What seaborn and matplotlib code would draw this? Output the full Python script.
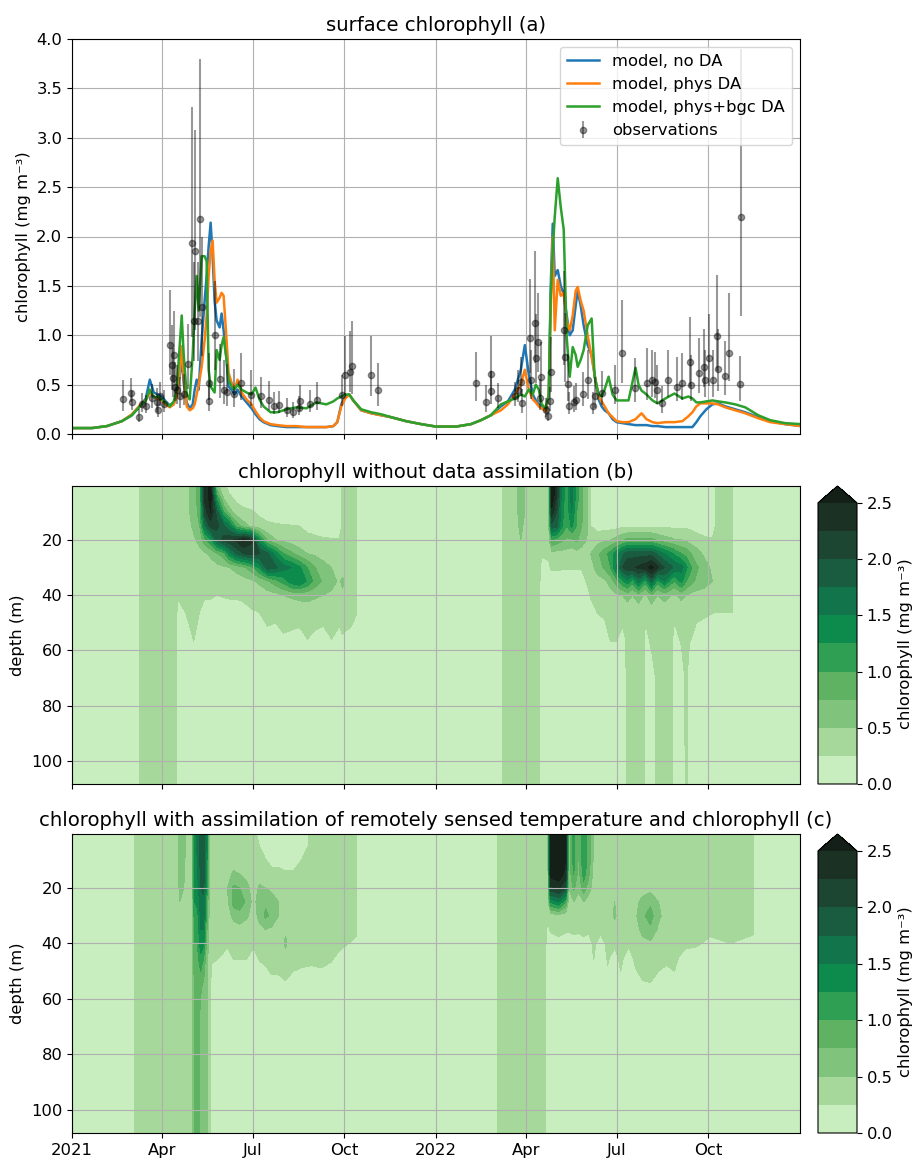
import numpy as np
import pandas as pd
import matplotlib
matplotlib.use("Agg")
import matplotlib.pyplot as plt
import matplotlib.dates as mdates
from matplotlib.colors import ListedColormap
from matplotlib.ticker import FuncFormatter
import seaborn as sns

plt.rcParams["font.size"] = 11.8

START = pd.Timestamp("2021-01-01")

# ---- surface chlorophyll, model runs (days since 2021-01-01) ----
model_days = [0, 20, 35, 50, 60, 68, 74, 78, 82, 86,
              90, 94, 98, 102, 105, 108, 110, 112, 115, 118,
              121, 123, 125, 127, 130, 133, 135, 137, 139, 141,
              143, 145, 148, 150, 152, 155, 157, 160, 163, 166,
              170, 175, 180, 184, 188, 192, 199, 206, 215, 225,
              235, 245, 255, 262, 266, 270, 274, 278, 282, 290,
              300, 310, 320, 335, 350, 365, 385, 400, 410, 420,
              430, 437, 444, 450, 454, 458, 462, 465, 468, 471,
              475, 478, 480, 482, 484, 487, 490, 493, 496, 499,
              502, 505, 507, 510, 513, 517, 521, 524, 528, 531,
              534, 538, 542, 546, 552, 558, 565, 568, 571, 576,
              582, 587, 595, 604, 612, 618, 622, 626, 630, 636,
              642, 648, 655, 665, 675, 688, 700, 715, 731]
chl_no_da = [.06, .06, .08, .13, .19, .28, .36, .55, .42, .40,
             .38, .33, .29, .32, .40, .60, .75, .52, .32, .26,
             .30, .45, .55, .45, .95, 1.35, 1.60, 1.90, 2.14, 1.80,
             1.35, 1.15, 1.08, 1.22, 1.05, .75, .48, .45, .40, .45,
             .38, .32, .26, .20, .15, .12, .09, .08, .07, .07,
             .07, .07, .07, .08, .12, .30, .38, .40, .34, .24,
             .21, .19, .17, .13, .10, .075, .075, .10, .14, .19,
             .28, .33, .45, .65, .90, .60, .40, .34, .30, .28,
             .24, .40, 1.50, 2.13, 1.60, 1.66, 1.50, 1.42, 1.20, 1.00,
             1.05, 1.30, 1.45, 1.30, 1.10, .90, .80, .60, .35, .28,
             .24, .21, .15, .12, .11, .10, .09, .09, .09, .09,
             .08, .08, .07, .07, .07, .07, .07, .12, .18, .25,
             .30, .31, .28, .25, .22, .17, .13, .10, .08]
chl_phys_da = [.06, .06, .08, .13, .20, .29, .34, .42, .38, .36,
               .34, .30, .27, .30, .38, .62, .89, .60, .28, .24,
               .26, .30, .40, .50, .68, .95, 1.20, 1.60, 1.85, 1.96,
               1.55, 1.33, 1.38, 1.43, 1.40, .95, .62, .52, .45, .55,
               .42, .35, .30, .23, .17, .13, .10, .09, .08, .08,
               .07, .07, .07, .08, .12, .28, .36, .40, .34, .24,
               .21, .19, .17, .13, .10, .075, .075, .10, .14, .19,
               .24, .30, .40, .50, .65, .45, .35, .32, .28, .26,
               .23, .40, 1.30, 2.00, 1.05, 1.56, 1.40, 1.43, 1.15, 1.05,
               1.20, 1.45, 1.49, 1.35, 1.25, 1.00, .78, .60, .38, .33,
               .28, .21, .17, .13, .12, .12, .15, .18, .21, .15,
               .12, .11, .12, .12, .13, .18, .22, .28, .31, .31,
               .31, .30, .27, .24, .21, .16, .12, .10, .08]
chl_bgc_da = [.06, .06, .08, .13, .19, .28, .34, .45, .37, .38,
              .35, .32, .28, .33, .45, .90, 1.20, .80, .40, .35,
              .80, 1.25, 1.60, 1.25, 1.80, 1.80, 1.75, .65, .48, .45,
              .42, .85, .75, .90, .98, .75, .55, .48, .45, .50,
              .45, .42, .40, .47, .35, .28, .22, .22, .25, .27,
              .26, .32, .30, .33, .36, .38, .40, .40, .34, .25,
              .22, .20, .17, .13, .10, .075, .075, .10, .14, .19,
              .30, .33, .36, .40, .38, .45, .40, .50, .45, .30,
              .26, .40, 1.40, 1.86, 2.20, 2.59, 2.30, 2.07, .98, .58,
              .88, .80, .68, .75, .85, 1.10, 1.17, .58, .40, .38,
              .45, .58, .40, .34, .34, .34, .67, .50, .44, .40,
              .34, .31, .36, .41, .36, .38, .36, .32, .32, .33,
              .34, .33, .32, .30, .27, .19, .14, .11, .10]

# ---- observations: day, value, lower / upper error ----
obs_day = [51.6, 59, 60, 66.7, 70, 74.4, 80.4, 85, 85.8, 88.5,
           92.5, 98.5, 100.3, 101.3, 102.6, 103.6, 105.6, 108.6, 112, 116,
           120.4, 122, 123.7, 126, 128, 130.4, 137, 137.8, 143.8, 148.8,
           152, 155.6, 162.2, 169, 179, 189, 197.4, 202.4, 207.4, 216,
           222, 227.5, 229, 239, 246, 271, 273.5, 278.8, 280.5, 299.6,
           306.4,
           405.2, 414.6, 419.6, 420.3, 427, 443.7, 447, 449.8, 451.5, 458.8,
           460.5, 464.5, 465.5, 467.3, 468.9, 470.6, 475.6, 477.3, 478.9, 480.6,
           493.4, 494.7, 497.5, 498, 503.4, 505.8, 512.5, 517.5, 522.6, 524.2,
           531, 544.3, 551, 564.4, 576.2, 581.2, 584.5, 586.2, 591.2, 598,
           606.3, 612, 619.7, 620.7, 628.2, 633.2, 634.8, 638.2, 642.2, 646.5,
           647.6, 654.3, 658.3, 670, 670.4]
obs_val = [.35, .42, .32, .17, .30, .28, .36, .32, .24, .38,
           .30, .90, .70, .57, .80, .48, .45, .38, .41, .71,
           1.93, 1.14, 1.85, 1.14, 2.18, 1.29, .33, .52, 1.00, .56,
           .45, .43, .41, .52, .40, .38, .34, .28, .29, .24,
           .22, .26, .33, .30, .34, .40, .60, .63, .69, .60,
           .45,
           .52, .32, .44, .61, .36, .38, .45, .53, .31, .97,
           .55, 1.12, .77, .93, .36, .58, .24, .18, .33, .63,
           1.05, .78, .51, .28, .32, .34, .41, .55, .28, .38,
           .42, .45, .82, .47, .52, .55, .53, .45, .31, .55,
           .48, .52, .73, .50, .62, .68, .55, .77, .55, .99,
           .66, .59, .82, .51, 2.20]
obs_dn = [.12, .10, .08, .05, .08, .07, .10, .10, .07, .10,
          .08, .30, .25, .20, .28, .15, .15, .12, .12, .25,
          .95, .40, .80, .40, 1.00, .50, .10, .18, .35, .20,
          .15, .15, .14, .18, .12, .12, .10, .08, .08, .07,
          .06, .07, .10, .08, .10, .12, .20, .20, .28, .22,
          .17,
          .19, .10, .14, .23, .10, .10, .13, .15, .10, .35,
          .20, .40, .25, .30, .12, .20, .07, .05, .10, .20,
          .35, .25, .18, .08, .10, .10, .13, .20, .08, .12,
          .13, .15, .30, .15, .18, .18, .17, .15, .10, .18,
          .15, .18, .25, .17, .20, .20, .18, .28, .18, .35,
          .22, .20, .28, .18, 1.00]
obs_up = [.20, .15, .12, .08, .12, .12, .15, .15, .10, .15,
          .15, .56, .40, .30, .45, .25, .25, .20, .20, .40,
          1.38, .60, 1.23, .60, 1.62, .70, .20, .30, .55, .35,
          .30, .28, .25, .30, .25, .20, .20, .15, .15, .12,
          .10, .12, .17, .15, .19, .20, .39, .41, .45, .39,
          .27,
          .31, .18, .20, .38, .16, .15, .20, .25, .15, .60,
          .30, .73, .45, .50, .20, .35, .12, .10, .15, .35,
          .60, .45, .30, .15, .17, .18, .22, .30, .15, .20,
          .22, .25, .54, .30, .35, .30, .30, .25, .18, .30,
          .30, .30, .45, .30, .35, .38, .30, .45, .30, .62,
          .40, .35, .61, .28, 1.70]

# ---- chlorophyll profiles (rows: time, columns: depth) ----
depth_levels = [0.5, 5, 10, 15, 20, 25, 30, 35, 40, 45, 55, 70, 108.4]
bg = [.1] * 13
stripe = [.35] * 13

days_no_da = [0, 66, 68, 104, 106, 114, 122, 128, 133, 139,
              145, 152, 158, 165, 172, 180, 188, 196, 204, 212,
              220, 228, 236, 244, 252, 260, 268, 271, 280, 285,
              287, 430, 432, 444, 450, 456, 468, 471, 478, 481,
              486, 491, 496, 501, 506, 511, 516, 520, 527, 534,
              540, 546, 552, 557, 562, 568, 573, 575, 581, 587,
              594, 601, 604, 611, 616, 619, 626, 634, 642, 646,
              662, 664, 731]
prof_no_da = [
    bg, bg, stripe, stripe,
    [.3, .3, .3, .3, .3, .3, .3, .28, .27, .2, .1, .1, .1],
    [.4, .4, .4, .35, .3, .28, .27, .27, .27, .27, .12, .1, .1],
    [.6, .6, .6, .55, .45, .35, .3, .28, .27, .27, .27, .1, .1],
    [.9, .9, .85, .75, .6, .4, .3, .28, .27, .26, .15, .1, .1],
    [2.3, 2.3, 2.1, 1.6, .9, .45, .33, .3, .27, .2, .1, .1, .1],
    [2.6, 2.6, 2.5, 2.1, 1.2, .55, .38, .3, .27, .2, .1, .1, .1],
    [.6, 1.2, 1.9, 2.1, 1.8, .7, .42, .3, .25, .15, .1, .1, .1],
    [.3, .5, 1.0, 1.8, 2.1, .9, .45, .33, .27, .15, .1, .1, .1],
    [.15, .3, .6, 1.5, 2.2, 1.4, .5, .3, .27, .2, .1, .1, .1],
    [.1, .2, .35, .9, 2.3, 1.8, .6, .35, .27, .2, .1, .1, .1],
    [.1, .15, .3, .6, 2.55, 2.0, .7, .4, .28, .22, .1, .1, .1],
    [.1, .12, .28, .45, 2.3, 2.1, .9, .45, .3, .25, .1, .1, .1],
    [.1, .1, .2, .35, 1.3, 2.0, 1.3, .55, .35, .27, .12, .1, .1],
    [.1, .1, .15, .3, .7, 1.8, 1.9, .7, .4, .3, .22, .1, .1],
    [.1, .1, .12, .28, .5, 1.4, 1.8, .9, .42, .3, .2, .1, .1],
    [.1, .1, .1, .27, .42, 1.0, 1.6, 1.1, .5, .32, .24, .1, .1],
    [.1, .1, .1, .26, .38, .8, 1.5, 1.4, .55, .35, .22, .1, .1],
    [.1, .1, .1, .25, .35, .6, 1.3, 1.5, .6, .35, .2, .1, .1],
    [.1, .1, .1, .2, .3, .5, 1.0, 1.2, .6, .4, .26, .1, .1],
    [.1, .1, .1, .15, .3, .45, .75, .9, .55, .35, .22, .1, .1],
    [.1, .1, .1, .1, .28, .38, .6, .7, .5, .33, .2, .1, .1],
    [.1, .1, .1, .1, .27, .33, .5, .6, .45, .3, .26, .1, .1],
    [.1, .1, .1, .1, .26, .3, .35, .45, .38, .3, .22, .1, .1],
    [.3, .3, .3, .3, .3, .3, .35, .55, .45, .35, .24, .1, .1],
    [.3, .3, .3, .3, .3, .3, .3, .35, .3, .3, .22, .1, .1],
    [.3, .3, .3, .3, .3, .3, .3, .3, .3, .27, .18, .1, .1],
    bg, bg, stripe,
    [.4, .4, .4, .4, .35, .33, .3, .3, .3, .3, .3, .3, .3],
    [.6, .6, .6, .55, .5, .45, .4, .35, .3, .3, .3, .3, .3],
    [.45, .45, .45, .4, .35, .3, .3, .3, .3, .3, .3, .3, .3],
    stripe,
    [.3, .3, .3, .3, .3, .28, .15, .1, .1, .1, .1, .1, .1],
    [.5, .5, .5, .45, .4, .3, .2, .1, .1, .1, .1, .1, .1],
    [2.8, 2.7, 2.4, 1.9, 1.0, .4, .3, .1, .1, .1, .1, .1, .1],
    [2.3, 2.2, 2.0, 1.8, .9, .4, .3, .1, .1, .1, .1, .1, .1],
    [1.4, 1.4, 1.35, 1.3, .8, .4, .28, .1, .1, .1, .1, .1, .1],
    [1.1, 1.1, 1.05, 1.0, .7, .4, .28, .1, .1, .1, .1, .1, .1],
    [1.6, 1.6, 1.5, 1.3, .7, .35, .27, .1, .1, .1, .1, .1, .1],
    [1.1, 1.1, 1.0, 1.0, .8, .4, .27, .1, .1, .1, .1, .1, .1],
    [.8, .8, .8, .75, .6, .4, .28, .1, .1, .1, .1, .1, .1],
    [.6, .6, .6, .6, .5, .4, .3, .27, .1, .1, .1, .1, .1],
    [.2, .2, .2, .25, .35, .5, .4, .3, .27, .2, .1, .1, .1],
    [.1, .1, .1, .15, .4, .7, .6, .4, .3, .27, .15, .1, .1],
    [.1, .1, .1, .15, .45, .9, .8, .45, .32, .28, .2, .1, .1],
    [.1, .1, .1, .15, .5, 1.1, 1.0, .6, .4, .3, .27, .1, .1],
    [.1, .1, .1, .15, .6, 1.4, 1.5, .9, .45, .3, .27, .1, .1],
    [.1, .1, .1, .2, .7, 1.7, 2.0, 1.2, .5, .35, .2, .1, .1],
    [.1, .1, .1, .2, .8, 1.9, 2.2, 1.4, .6, .4, .3, .3, .3],
    [.1, .1, .1, .2, .8, 1.9, 2.2, 1.1, .5, .35, .3, .3, .3],
    [.1, .1, .1, .2, .8, 1.9, 2.3, 1.6, .65, .4, .3, .3, .3],
    [.1, .1, .1, .2, .8, 1.9, 2.4, 1.2, .5, .35, .3, .3, .3],
    [.1, .1, .1, .2, .8, 1.9, 2.4, 1.1, .45, .3, .2, .1, .1],
    [.1, .1, .1, .2, .8, 1.9, 2.6, 1.8, .7, .4, .3, .15, .1],
    [.1, .1, .1, .2, .7, 1.7, 2.3, 1.1, .5, .35, .3, .3, .3],
    [.1, .1, .1, .2, .6, 1.5, 2.0, 1.5, .6, .4, .3, .3, .3],
    [.1, .1, .1, .2, .55, 1.3, 1.8, 1.1, .5, .35, .3, .3, .3],
    [.1, .1, .1, .2, .5, 1.2, 1.7, 1.0, .45, .3, .2, .1, .1],
    [.1, .1, .1, .2, .5, 1.0, 1.6, 1.3, .6, .35, .28, .15, .1],
    [.1, .1, .1, .2, .45, .9, 1.3, 1.0, .5, .35, .3, .3, .3],
    [.1, .1, .1, .2, .4, .8, 1.1, .9, .45, .3, .28, .1, .1],
    [.1, .1, .1, .15, .35, .6, .8, .7, .4, .3, .2, .1, .1],
    [.1, .1, .1, .1, .3, .45, .6, .6, .4, .3, .15, .1, .1],
    [.1, .1, .1, .1, .27, .35, .45, .5, .35, .28, .1, .1, .1],
    [.3, .3, .3, .3, .3, .3, .35, .4, .32, .27, .1, .1, .1],
    [.3, .3, .3, .3, .3, .3, .3, .3, .3, .27, .1, .1, .1],
    bg, bg,
]

days_bgc_da = [0, 61, 63, 105, 108, 112, 115, 120, 123, 126,
               129, 132, 135, 138, 140, 148, 156, 162, 168, 175,
               182, 188, 194, 200, 207, 214, 222, 230, 240, 250,
               260, 270, 285, 287, 425, 427, 474, 477, 480, 488,
               495, 498, 503, 508, 513, 518, 523, 530, 537, 544,
               550, 558, 565, 572, 580, 588, 596, 604, 615, 625,
               640, 660, 683, 685, 731]
prof_bgc_da = [
    bg, bg, stripe, stripe,
    [.7, .7, .65, .6, .55, .5, .45, .4, .35, .35, .35, .35, .35],
    [.7, .7, .6, .55, .5, .45, .4, .35, .35, .35, .35, .35, .35],
    stripe, stripe,
    [1.4, 1.4, 1.35, 1.3, 1.3, 1.25, 1.2, 1.1, 1.0, .9, .85, .85, .8],
    [1.6, 1.6, 1.5, 1.5, 1.4, 1.3, 1.2, 1.1, 1.0, .95, .9, .9, .9],
    [1.9, 1.9, 1.85, 1.8, 1.75, 1.65, 1.55, 1.5, 1.4, 1.2, .8, .6, .6],
    [1.95, 1.95, 1.9, 1.85, 1.8, 1.7, 1.6, 1.5, 1.3, 1.0, .7, .6, .6],
    [1.4, 1.4, 1.35, 1.3, 1.2, 1.0, .9, .8, .7, .6, .6, .6, .6],
    [.5, .5, .5, .45, .45, .4, .4, .35, .35, .35, .35, .35, .3],
    [.4, .4, .35, .35, .35, .33, .3, .3, .3, .28, .15, .1, .1],
    [.5, .45, .4, .35, .35, .35, .3, .3, .28, .25, .1, .1, .1],
    [.35, .35, .35, .4, .5, .45, .35, .3, .27, .2, .1, .1, .1],
    [.3, .3, .35, .55, .8, .85, .6, .35, .3, .26, .1, .1, .1],
    [.3, .3, .35, .5, .75, .9, .65, .4, .3, .26, .1, .1, .1],
    [.3, .3, .3, .4, .6, .7, .55, .35, .3, .26, .1, .1, .1],
    [.3, .3, .28, .3, .35, .4, .35, .3, .27, .2, .1, .1, .1],
    [.2, .25, .3, .35, .55, .65, .6, .4, .3, .27, .12, .1, .1],
    [.1, .15, .26, .35, .5, .7, .8, .5, .35, .28, .18, .1, .1],
    [.1, .1, .2, .3, .45, .6, .7, .45, .35, .3, .22, .1, .1],
    [.1, .1, .2, .3, .4, .5, .5, .4, .32, .3, .22, .1, .1],
    [.1, .1, .15, .28, .35, .4, .45, .45, .55, .4, .22, .1, .1],
    [.1, .1, .15, .28, .3, .35, .35, .35, .3, .3, .2, .1, .1],
    [.1, .15, .25, .28, .3, .32, .32, .3, .3, .28, .2, .1, .1],
    [.3, .3, .3, .3, .3, .3, .32, .32, .3, .28, .18, .1, .1],
    [.3, .3, .3, .3, .3, .3, .32, .35, .3, .28, .2, .1, .1],
    [.3, .3, .3, .3, .3, .3, .3, .3, .3, .27, .15, .1, .1],
    [.3, .3, .3, .3, .3, .3, .3, .3, .28, .2, .1, .1, .1],
    [.3, .3, .3, .3, .3, .3, .3, .28, .22, .15, .1, .1, .1],
    bg, bg, stripe, stripe,
    [.35, .35, .35, .3, .3, .3, .28, .2, .1, .1, .1, .1, .1],
    [2.8, 2.8, 2.7, 2.6, 2.2, 1.3, .35, .28, .15, .1, .1, .1, .1],
    [3.0, 3.0, 2.9, 2.7, 2.3, 1.5, .4, .3, .2, .1, .1, .1, .1],
    [2.6, 2.6, 2.5, 2.4, 2.0, 1.0, .35, .28, .15, .1, .1, .1, .1],
    [.6, .6, .6, .55, .5, .4, .3, .27, .15, .1, .1, .1, .1],
    [1.1, 1.1, 1.1, 1.0, .8, .5, .35, .28, .2, .1, .1, .1, .1],
    [.7, .7, .7, .65, .55, .4, .3, .27, .2, .1, .1, .1, .1],
    [1.2, 1.2, 1.2, 1.1, .9, .5, .35, .28, .22, .1, .1, .1, .1],
    [.9, .9, .9, .8, .6, .4, .3, .27, .2, .1, .1, .1, .1],
    [.45, .45, .45, .4, .4, .35, .3, .28, .27, .26, .1, .1, .1],
    [.35, .35, .35, .35, .3, .3, .3, .28, .2, .1, .1, .1, .1],
    [.3, .3, .3, .3, .3, .3, .32, .3, .28, .27, .2, .1, .1],
    [.3, .3, .3, .3, .3, .5, .55, .35, .28, .2, .1, .1, .1],
    [.3, .3, .3, .3, .3, .35, .35, .3, .3, .28, .22, .1, .1],
    [.3, .3, .3, .3, .3, .3, .3, .3, .27, .2, .1, .1, .1],
    [.3, .3, .3, .3, .3, .4, .45, .35, .3, .28, .2, .1, .1],
    [.3, .3, .3, .3, .35, .6, .7, .6, .4, .3, .24, .1, .1],
    [.3, .3, .3, .3, .4, .7, .85, .7, .45, .35, .24, .1, .1],
    [.3, .3, .3, .3, .35, .5, .55, .45, .35, .3, .2, .1, .1],
    [.3, .3, .3, .3, .3, .35, .4, .35, .3, .27, .2, .1, .1],
    [.3, .3, .3, .3, .3, .3, .35, .35, .3, .28, .22, .1, .1],
    [.3, .3, .3, .3, .3, .3, .4, .3, .28, .2, .1, .1, .1],
    [.3, .3, .3, .3, .3, .3, .3, .3, .27, .2, .1, .1, .1],
    [.3, .3, .3, .3, .3, .3, .3, .28, .22, .15, .1, .1, .1],
    [.3, .3, .3, .3, .3, .3, .3, .28, .25, .15, .1, .1, .1],
    [.3, .3, .3, .3, .3, .3, .3, .28, .2, .1, .1, .1, .1],
    bg, bg,
]

# colour bands of the chlorophyll scale, plus the "over" colour
band_colors = ["#c8edbf", "#a6d89b", "#80c37c", "#5eb262", "#2fa053",
               "#0c8b4c", "#11744a", "#1a5c40", "#1c4532", "#1a3123"]
over_color = "#141f17"
levels = np.arange(0, 2.51, 0.25)

assert len(model_days) == len(chl_no_da) == len(chl_phys_da) == len(chl_bgc_da)
assert len(obs_day) == len(obs_val) == len(obs_dn) == len(obs_up)
assert len(days_no_da) == len(prof_no_da)
assert len(days_bgc_da) == len(prof_bgc_da)


def to_dates(days):
    return START + pd.to_timedelta(np.asarray(days, dtype=float), unit="D")


def month_label(x, pos):
    d = mdates.num2date(x)
    return str(d.year) if d.month == 1 else d.strftime("%b")


W, H = 917, 1160
fig = plt.figure(figsize=(W / 100, H / 100), dpi=100)
left, width = 72 / W, 728 / W
ax_a = fig.add_axes([left, 1 - 434 / H, width, 395 / H])
ax_b = fig.add_axes([left, 1 - 784 / H, width, 298 / H])
ax_c = fig.add_axes([left, 1 - 1133 / H, width, 299 / H])
cax_b = fig.add_axes([818 / W, 1 - 784 / H, 39 / W, 298 / H])
cax_c = fig.add_axes([818 / W, 1 - 1133 / H, 39 / W, 299 / H])

# (a) surface chlorophyll
model_dates = to_dates(model_days)
pal = sns.color_palette("tab10")
sns.lineplot(x=model_dates, y=chl_no_da, ax=ax_a, color=pal[0], lw=1.8,
             label="model, no DA")
sns.lineplot(x=model_dates, y=chl_phys_da, ax=ax_a, color=pal[1], lw=1.8,
             label="model, phys DA")
sns.lineplot(x=model_dates, y=chl_bgc_da, ax=ax_a, color=pal[2], lw=1.8,
             label="model, phys+bgc DA")
ax_a.errorbar(to_dates(obs_day), obs_val, yerr=[obs_dn, obs_up], fmt="o",
              color="k", ms=4.5, alpha=0.4, label="observations")
ax_a.set_ylim(0, 4)
ax_a.set_yticks(np.arange(0, 4.01, 0.5))
ax_a.set_ylabel("chlorophyll (mg m\u207b\u00b3)")
ax_a.set_xlabel("")
ax_a.set_title("surface chlorophyll (a)")
ax_a.grid(True)
ax_a.legend(loc="upper right")

# (b), (c) chlorophyll sections
cmap = ListedColormap(band_colors)
cmap.set_over(over_color)
panels = [
    (ax_b, cax_b, days_no_da, prof_no_da,
     "chlorophyll without data assimilation (b)"),
    (ax_c, cax_c, days_bgc_da, prof_bgc_da,
     "chlorophyll with assimilation of remotely sensed temperature and chlorophyll (c)"),
]
for ax, cax, days, prof, title in panels:
    xnum = mdates.date2num(to_dates(days))
    cf = ax.contourf(xnum, depth_levels, np.array(prof).T, levels=levels,
                     cmap=cmap, extend="max")
    ax.set_ylim(depth_levels[-1], depth_levels[0])
    ax.set_yticks([20, 40, 60, 80, 100])
    ax.set_ylabel("depth (m)")
    ax.set_title(title)
    ax.grid(True)
    cb = fig.colorbar(cf, cax=cax, ticks=np.arange(0, 2.51, 0.5), extendfrac=0.06)
    cb.set_label("chlorophyll (mg m\u207b\u00b3)")

xlim = mdates.date2num([START, START + pd.Timedelta(days=729.9)])
for ax in (ax_a, ax_b, ax_c):
    ax.set_xlim(xlim)
    ax.xaxis.set_major_locator(mdates.MonthLocator(bymonth=[1, 4, 7, 10]))
    ax.xaxis.set_major_formatter(FuncFormatter(month_label))
ax_a.tick_params(labelbottom=False)
ax_b.tick_params(labelbottom=False)

fig.savefig("out.png", dpi=100)
